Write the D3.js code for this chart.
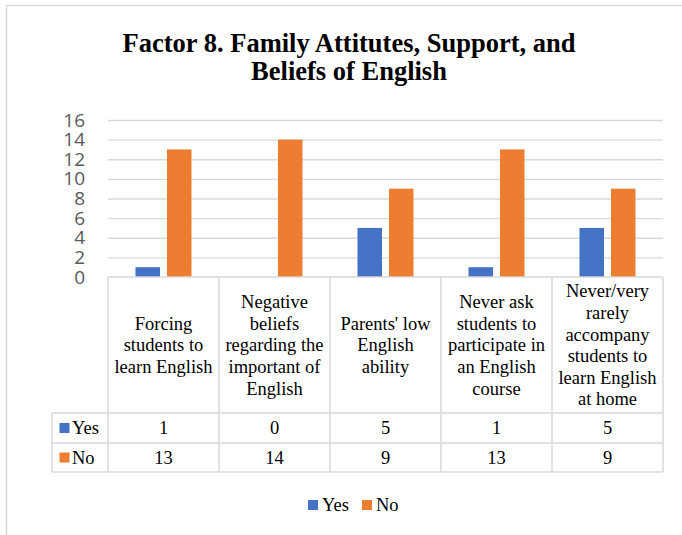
<!DOCTYPE html>
<html>
<head>
<meta charset="utf-8">
<script src="https://cdn.jsdelivr.net/npm/d3@7"></script>
<style>
  body { margin: 0; background: #fff; }
  svg { display: block; }
</style>
</head>
<body>
<div id="chart"></div>
<script>
const WIDTH = 682;
const HEIGHT = 535;

// data
const categories = [
  "Forcing\nstudents to\nlearn English",
  "Negative\nbeliefs\nregarding the\nimportant of\nEnglish",
  "Parents' low\nEnglish\nability",
  "Never ask\nstudents to\nparticipate in\nan English\ncourse",
  "Never/very\nrarely\naccompany\nstudents to\nlearn English\nat home"
];
const seriesNames = ["Yes", "No"];
const yesValues = [1, 0, 5, 1, 5];
const noValues = [13, 14, 9, 13, 9];
const yTicks = [0, 2, 4, 6, 8, 10, 12, 14, 16];
const COLORS = { Yes: "#4472C4", No: "#ED7D31" };

const PLOT = { left: 108, right: 663, top: 120, bottom: 277 };
const TABLE = { keyLeft: 52, headerBottom: 413, row1Bottom: 443, row2Bottom: 472 };
const GRID = "#d9d9d9";

const rows = categories.map((c, i) => ({ cat: c, Yes: yesValues[i], No: noValues[i] }));

const svg = d3.select("#chart")
  .append("svg")
  .attr("width", WIDTH)
  .attr("height", HEIGHT);

// outer frame (only left + top visible)
svg.append("path")
  .attr("d", "M6.5," + HEIGHT + " L6.5,5.5 L" + WIDTH + ",5.5")
  .attr("fill", "none")
  .attr("stroke", GRID)
  .attr("stroke-width", 1.5);

// title
svg.append("text")
  .attr("x", 349)
  .attr("text-anchor", "middle")
  .attr("font-family", "'Liberation Serif', 'Times New Roman', serif")
  .attr("font-weight", "bold")
  .attr("font-size", "26.5px")
  .selectAll("tspan")
  .data(["Factor 8. Family Attitutes, Support, and", "Beliefs of English"])
  .enter()
  .append("tspan")
  .attr("x", 349)
  .attr("y", (d, i) => 52 + i * 28)
  .text(d => d);

// scales
const X = d3.scaleBand()
  .domain(categories)
  .range([PLOT.left, PLOT.right])
  .padding(0);

const X_INNER = d3.scaleBand()
  .domain(seriesNames)
  .range([0, X.bandwidth()])
  .paddingInner(0.222)
  .paddingOuter(0.873);

const Y = d3.scaleLinear()
  .domain([0, 16])
  .range([PLOT.bottom, PLOT.top]);

// y axis with gridlines
const yAxis = svg.append("g")
  .attr("transform", "translate(" + PLOT.left + ",0)")
  .call(d3.axisLeft(Y)
    .tickValues(yTicks)
    .tickSize(-(PLOT.right - PLOT.left))
    .tickPadding(23));

yAxis.select(".domain").remove();
yAxis.selectAll(".tick line")
  .attr("stroke", GRID)
  .attr("stroke-width", 1.4)
  .attr("stroke-opacity", d => d === 0 ? 0 : 1);
yAxis.selectAll(".tick text")
  .attr("fill", "#595959")
  .attr("font-family", "'Open Sans', Lato, sans-serif")
  .attr("font-size", "19px");

// bars
const groups = svg.selectAll(".grp")
  .data(rows)
  .enter()
  .append("g")
  .attr("class", "grp")
  .attr("transform", d => "translate(" + X(d.cat) + ",0)");

groups.selectAll("rect")
  .data(d => seriesNames.map(s => ({ key: s, value: d[s] })))
  .enter()
  .append("rect")
  .attr("x", d => X_INNER(d.key))
  .attr("width", X_INNER.bandwidth())
  .attr("y", d => Y(d.value))
  .attr("height", d => Y(0) - Y(d.value))
  .attr("fill", d => COLORS[d.key]);

// data table lines
const tbl = svg.append("g")
  .attr("stroke", GRID)
  .attr("stroke-width", 1.5)
  .attr("fill", "none");

// category axis line + header row
tbl.append("line")
  .attr("x1", PLOT.left).attr("x2", PLOT.right)
  .attr("y1", PLOT.bottom).attr("y2", PLOT.bottom);

[TABLE.headerBottom, TABLE.row1Bottom, TABLE.row2Bottom].forEach(y => {
  tbl.append("line")
    .attr("x1", TABLE.keyLeft).attr("x2", PLOT.right)
    .attr("y1", y).attr("y2", y);
});

tbl.append("line")
  .attr("x1", TABLE.keyLeft).attr("x2", TABLE.keyLeft)
  .attr("y1", TABLE.headerBottom).attr("y2", TABLE.row2Bottom);

X.domain().concat(["end"]).forEach((c, i) => {
  const x = c === "end" ? PLOT.right : X(c);
  tbl.append("line")
    .attr("x1", x).attr("x2", x)
    .attr("y1", PLOT.bottom).attr("y2", TABLE.row2Bottom);
});

const SERIF = "'Liberation Serif', 'Times New Roman', serif";
const LINE_H = 21.6;

// header (category) labels, vertically centred in the header cell
const headerMid = (PLOT.bottom + TABLE.headerBottom) / 2;
svg.selectAll(".cat-label")
  .data(categories)
  .enter()
  .append("text")
  .attr("class", "cat-label")
  .attr("text-anchor", "middle")
  .attr("font-family", SERIF)
  .attr("font-size", "18.5px")
  .attr("fill", "#000")
  .each(function (d) {
    const lines = d.split("\n");
    const cx = X(d) + X.bandwidth() / 2;
    const y0 = headerMid - (lines.length - 1) * LINE_H / 2;
    d3.select(this).selectAll("tspan")
      .data(lines)
      .enter()
      .append("tspan")
      .attr("x", cx)
      .attr("y", (l, i) => y0 + i * LINE_H)
      .attr("dy", "0.35em")
      .text(l => l);
  });

// value rows
const rowMids = {
  Yes: (TABLE.headerBottom + TABLE.row1Bottom) / 2,
  No: (TABLE.row1Bottom + TABLE.row2Bottom) / 2
};

seriesNames.forEach(s => {
  // legend key inside the table
  svg.append("rect")
    .attr("x", 59.5)
    .attr("y", rowMids[s] - 5)
    .attr("width", 10)
    .attr("height", 10)
    .attr("fill", COLORS[s]);
  svg.append("text")
    .attr("x", 72)
    .attr("y", rowMids[s])
    .attr("dy", "0.35em")
    .attr("font-family", SERIF)
    .attr("font-size", "18.5px")
    .text(s);

  svg.selectAll(".val-" + s)
    .data(rows)
    .enter()
    .append("text")
    .attr("class", "val-" + s)
    .attr("x", d => X(d.cat) + X.bandwidth() / 2)
    .attr("y", rowMids[s])
    .attr("dy", "0.35em")
    .attr("text-anchor", "middle")
    .attr("font-family", SERIF)
    .attr("font-size", "18.5px")
    .text(d => d[s]);
});

// bottom legend
const legend = svg.append("g")
  .attr("transform", "translate(308,505)");

const LEGEND_X = { Yes: 0, No: 54 };
seriesNames.forEach(s => {
  legend.append("rect")
    .attr("x", LEGEND_X[s])
    .attr("y", -5)
    .attr("width", 10)
    .attr("height", 10)
    .attr("fill", COLORS[s]);
  legend.append("text")
    .attr("x", LEGEND_X[s] + 14)
    .attr("y", 0)
    .attr("dy", "0.35em")
    .attr("font-family", SERIF)
    .attr("font-size", "18.5px")
    .text(s);
});
</script>
</body>
</html>
